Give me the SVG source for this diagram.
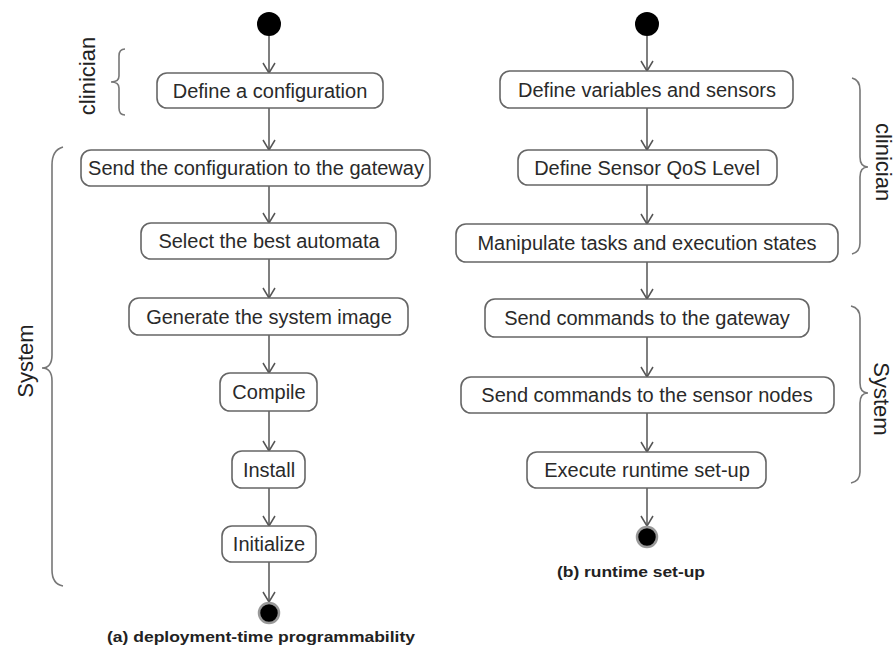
<svg xmlns="http://www.w3.org/2000/svg" width="896" height="653" viewBox="0 0 896 653">
<defs>
<marker id="arr" markerUnits="userSpaceOnUse" markerWidth="14" markerHeight="14" viewBox="0 0 14 14" refX="12" refY="7" orient="auto">
<path d="M2,1 L12,7 L2,13" fill="none" stroke="#555" stroke-width="1.5"/>
</marker>
<style>
.box{fill:#fff;stroke:#666;stroke-width:1.6}
.lbl{font-family:"Liberation Sans",Arial,sans-serif;font-size:20px;fill:#2a2a2a;text-anchor:middle}
.side{font-family:"Liberation Sans",Arial,sans-serif;font-size:22px;fill:#222;text-anchor:middle}
.cap{font-family:"Liberation Sans",Arial,sans-serif;font-size:15px;font-weight:bold;fill:#222;text-anchor:middle}
.edge{stroke:#555;stroke-width:1.5;fill:none;marker-end:url(#arr)}
.brace{stroke:#777;stroke-width:1.6;fill:none}
.start{fill:#000}
.end{fill:#000;stroke:#999;stroke-width:2.5}
</style>
</defs>
<rect width="896" height="653" fill="#fff"/>

<g id="connectors">
<line class="edge" x1="269" y1="36" x2="269" y2="73"/>
<line class="edge" x1="269" y1="108" x2="269" y2="150"/>
<line class="edge" x1="269" y1="186" x2="269" y2="223"/>
<line class="edge" x1="269" y1="259" x2="269" y2="298"/>
<line class="edge" x1="269" y1="335" x2="269" y2="373"/>
<line class="edge" x1="269" y1="411" x2="269" y2="451"/>
<line class="edge" x1="269" y1="488" x2="269" y2="526"/>
<line class="edge" x1="269" y1="562" x2="269" y2="602"/>
<line class="edge" x1="647" y1="36" x2="647" y2="71"/>
<line class="edge" x1="647" y1="108" x2="647" y2="150"/>
<line class="edge" x1="647" y1="185" x2="647" y2="224"/>
<line class="edge" x1="647" y1="262" x2="647" y2="299"/>
<line class="edge" x1="647" y1="337" x2="647" y2="377"/>
<line class="edge" x1="647" y1="413" x2="647" y2="452"/>
<line class="edge" x1="647" y1="488" x2="647" y2="526"/>
</g>

<g id="a-start"><circle class="start" cx="269" cy="24" r="12"/></g>
<g id="a1"><rect class="box" x="157" y="73" width="226" height="35" rx="10"/><text class="lbl" x="270" y="98">Define a configuration</text></g>
<g id="a2"><rect class="box" x="81" y="150" width="349" height="36" rx="10"/><text class="lbl" x="256" y="175">Send the configuration to the gateway</text></g>
<g id="a3"><rect class="box" x="141" y="223" width="255" height="36" rx="10"/><text class="lbl" x="269" y="248">Select the best automata</text></g>
<g id="a4"><rect class="box" x="129" y="298" width="279" height="37" rx="10"/><text class="lbl" x="269" y="324">Generate the system image</text></g>
<g id="a5"><rect class="box" x="220" y="373" width="97" height="38" rx="10"/><text class="lbl" x="269" y="399">Compile</text></g>
<g id="a6"><rect class="box" x="232" y="451" width="73" height="37" rx="10"/><text class="lbl" x="269" y="477">Install</text></g>
<g id="a7"><rect class="box" x="222" y="526" width="94" height="36" rx="10"/><text class="lbl" x="269" y="551">Initialize</text></g>
<g id="a-end"><circle class="end" cx="269" cy="613" r="10"/></g>
<g id="a-caption"><text class="cap" x="261" y="642" textLength="308" lengthAdjust="spacingAndGlyphs">(a) deployment-time programmability</text></g>

<g id="b-start"><circle class="start" cx="647" cy="24" r="12"/></g>
<g id="b1"><rect class="box" x="500" y="71" width="293" height="37" rx="10"/><text class="lbl" x="647" y="97">Define variables and sensors</text></g>
<g id="b2"><rect class="box" x="518" y="150" width="259" height="35" rx="10"/><text class="lbl" x="647" y="175">Define Sensor QoS Level</text></g>
<g id="b3"><rect class="box" x="456" y="224" width="382" height="38" rx="10"/><text class="lbl" x="647" y="250">Manipulate tasks and execution states</text></g>
<g id="b4"><rect class="box" x="485" y="299" width="324" height="38" rx="10"/><text class="lbl" x="647" y="325">Send commands to the gateway</text></g>
<g id="b5"><rect class="box" x="461" y="377" width="373" height="36" rx="10"/><text class="lbl" x="647" y="402">Send commands to the sensor nodes</text></g>
<g id="b6"><rect class="box" x="527" y="452" width="239" height="36" rx="10"/><text class="lbl" x="647" y="477">Execute runtime set-up</text></g>
<g id="b-end"><circle class="end" cx="647" cy="537" r="10"/></g>
<g id="b-caption"><text class="cap" x="631" y="577" textLength="148" lengthAdjust="spacingAndGlyphs">(b) runtime set-up</text></g>

<g id="brace-left-clinician">
<path class="brace" d="M125,49 Q119,49 119,56 L119,76 Q119,82 111,82 Q119,82 119,88 L119,108 Q119,115 125,115"/>
<text class="side" transform="translate(95,76) rotate(-90)">clinician</text>
</g>
<g id="brace-left-system">
<path class="brace" d="M63,147 Q52,150 52,165 L52,355 Q52,368 42,368 Q52,368 52,381 L52,570 Q52,584 63,586"/>
<text class="side" transform="translate(33,361) rotate(-90)">System</text>
</g>
<g id="brace-right-clinician">
<path class="brace" d="M852,78 Q860,80 860,90 L860,157 Q860,167 868,167 Q860,167 860,177 L860,243 Q860,252 852,254"/>
<text class="side" transform="translate(876,162) rotate(90)">clinician</text>
</g>
<g id="brace-right-system">
<path class="brace" d="M851,306 Q860,308 860,318 L860,383 Q860,393 868,393 Q860,393 860,403 L860,472 Q860,481 851,483"/>
<text class="side" transform="translate(874,399) rotate(90)">System</text>
</g>
</svg>
